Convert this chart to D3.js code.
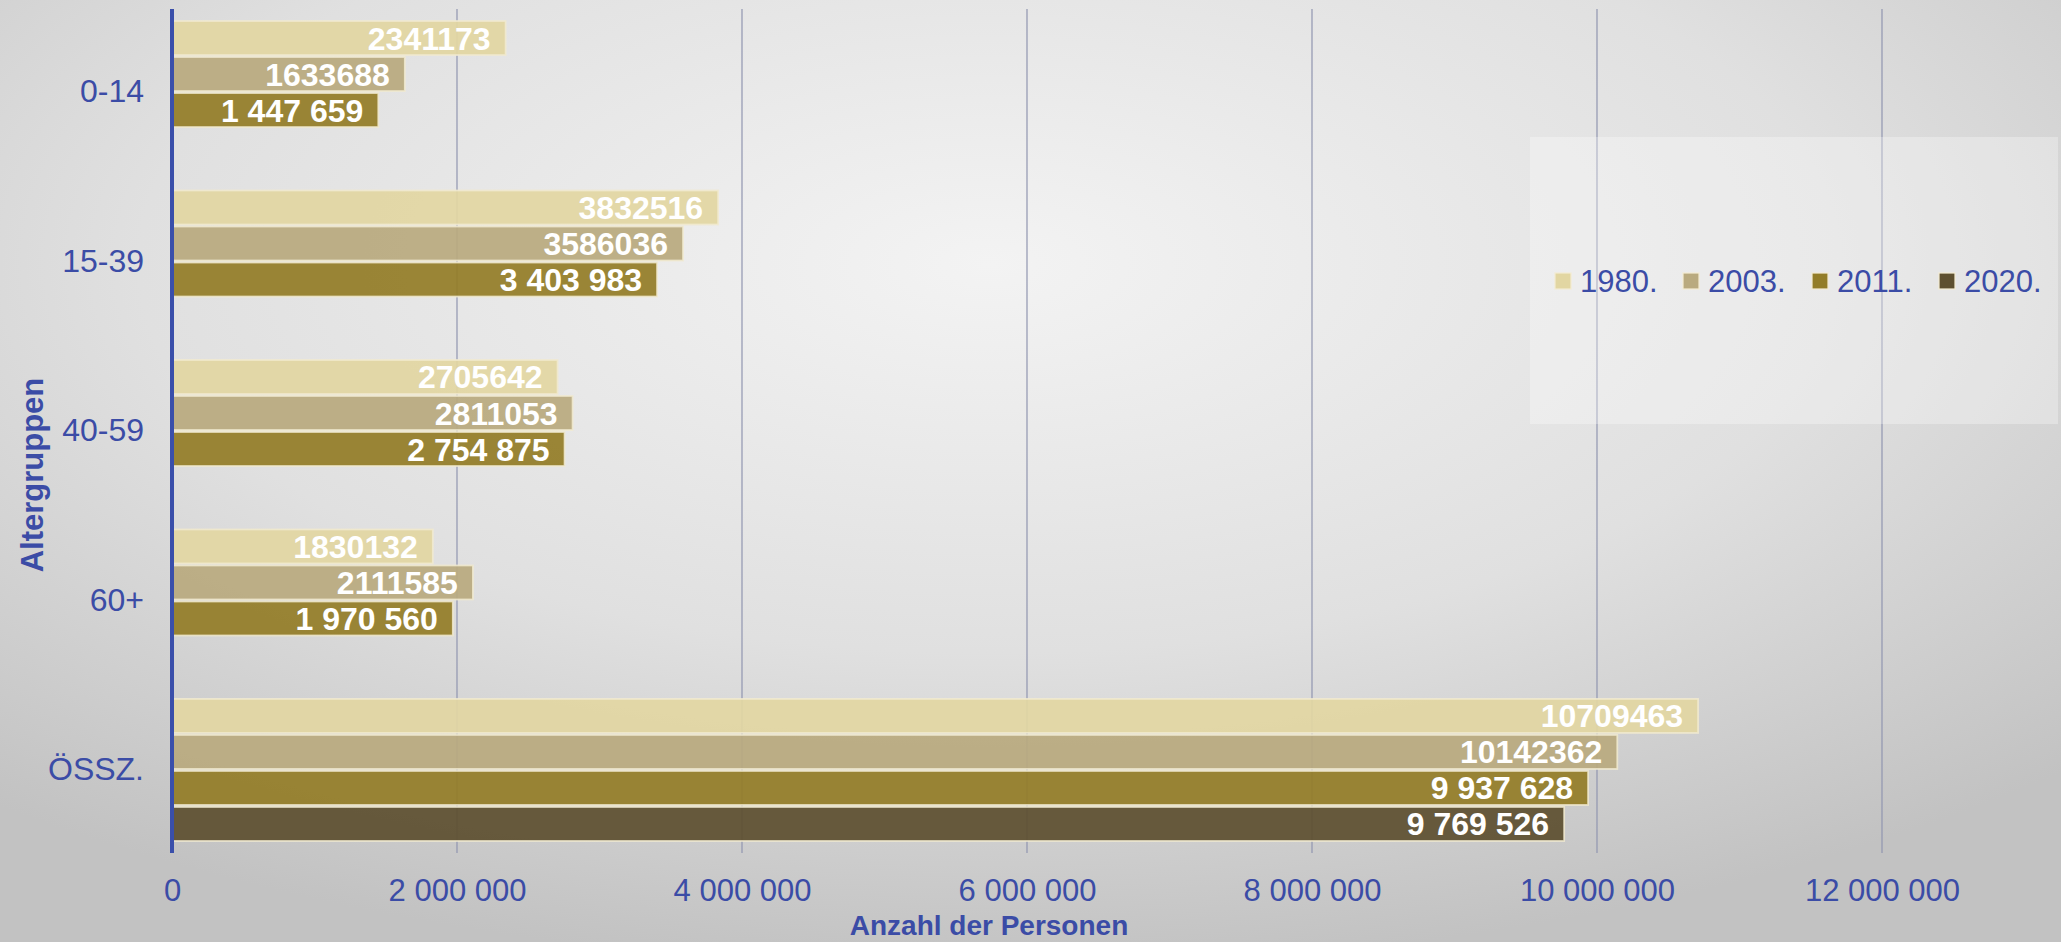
<!DOCTYPE html>
<html>
<head>
<meta charset="utf-8">
<script src="https://cdn.jsdelivr.net/npm/d3@7"></script>
<style>
  html, body { margin: 0; padding: 0; overflow: hidden; }
  body { width: 2061px; height: 942px; }
  text { font-family: "Liberation Sans", Arial, sans-serif; }
</style>
</head>
<body>
<svg id="chart" width="2061" height="942"></svg>
<script>
// ---- data ----
const categories = ["0-14", "15-39", "40-59", "60+", "ÖSSZ."];
const seriesNames = ["1980.", "2003.", "2011.", "2020."];
const values1980 = [2341173, 3832516, 2705642, 1830132, 10709463];
const values2003 = [1633688, 3586036, 2811053, 2111585, 10142362];
const values2011 = [1447659, 3403983, 2754875, 1970560, 9937628];
const values2020 = [null, null, null, null, 9769526];
const labelGrouped = [false, false, true, true];
const seriesColors = ["#e2d6a2", "#b9aa7f", "#937d28", "#5e5030"];
const xTicks = [0, 2000000, 4000000, 6000000, 8000000, 10000000, 12000000];
const xTitle = "Anzahl der Personen";
const yTitle = "Altergruppen";

const seriesValues = [values1980, values2003, values2011, values2020];

const W = 2061, H = 942;
const svg = d3.select("#chart");
const blue = "#3b4ca6";

// background
const defs = svg.append("defs");
const rg = defs.append("radialGradient").attr("id", "bg")
  .attr("cx", "48%").attr("cy", "28%").attr("r", "75%")
  .attr("gradientUnits", "objectBoundingBox");
rg.append("stop").attr("offset", "0%").attr("stop-color", "#f3f3f3");
rg.append("stop").attr("offset", "55%").attr("stop-color", "#e0e0e0");
rg.append("stop").attr("offset", "100%").attr("stop-color", "#c2c2c2");
svg.append("rect").attr("width", W).attr("height", H).attr("fill", "url(#bg)");

// scales
const x = d3.scaleLinear().domain([0, 12000000]).range([172, 1882]);
const y = d3.scaleBand().domain(categories).range([9, 853])
  .paddingInner(0.15).paddingOuter(0.065);
const ySub = d3.scaleBand().domain(seriesNames).range([0, y.bandwidth()]).padding(0);

const plotTop = 9, plotBottom = 853;

// gridlines
svg.append("g").selectAll("line").data(xTicks.slice(1)).join("line")
  .attr("x1", d => x(d)).attr("x2", d => x(d))
  .attr("y1", plotTop).attr("y2", plotBottom)
  .attr("stroke", "#9095b0").attr("stroke-width", 1.2);

// bars
const fmtGroup = d3.formatLocale({decimal: ",", thousands: " ", grouping: [3], currency: ["", ""]}).format(",d");
const fmtPlain = d3.format("d");

const barData = [];
seriesNames.forEach((s, si) => {
  categories.forEach((c, ci) => {
    const v = seriesValues[si][ci];
    if (v != null) barData.push({s, si, c, v});
  });
});

const gBars = svg.append("g");
gBars.selectAll("rect").data(barData).join("rect")
  .attr("x", x(0))
  .attr("y", d => y(d.c) + ySub(d.s) + 1)
  .attr("width", d => x(d.v) - x(0))
  .attr("height", ySub.bandwidth() - 2)
  .attr("fill", d => seriesColors[d.si])
  .attr("fill-opacity", 0.93)
  .attr("stroke", "#f1ead0")
  .attr("stroke-opacity", 0.85)
  .attr("stroke-width", 1.8);

gBars.selectAll("text").data(barData).join("text")
  .attr("x", d => x(d.v) - 15)
  .attr("y", d => y(d.c) + ySub(d.s) + ySub.bandwidth() / 2)
  .attr("dy", "0.36em")
  .attr("text-anchor", "end")
  .attr("fill", "#ffffff")
  .attr("font-weight", "bold")
  .attr("font-size", 32)
  .text(d => labelGrouped[d.si] ? fmtGroup(d.v) : fmtPlain(d.v));

// y axis line
svg.append("line").attr("x1", x(0)).attr("x2", x(0))
  .attr("y1", plotTop).attr("y2", plotBottom)
  .attr("stroke", "#3a4faa").attr("stroke-width", 4);

// y axis labels
const yAxis = d3.axisLeft(y).tickSize(0).tickPadding(28);
const gy = svg.append("g").attr("transform", `translate(${x(0)},0)`).call(yAxis);
gy.select(".domain").remove();
gy.selectAll("text").attr("fill", blue).attr("font-size", 32)
  .attr("font-family", "'Liberation Sans', Arial, sans-serif");

// x axis labels
const xAxis = d3.axisBottom(x).tickValues(xTicks).tickSize(0).tickPadding(0)
  .tickFormat(d => d === 0 ? "0" : fmtGroup(d));
const gx = svg.append("g").attr("transform", `translate(0,${plotBottom})`).call(xAxis);
gx.select(".domain").remove();
gx.selectAll("text").attr("fill", blue).attr("font-size", 31)
  .attr("font-family", "'Liberation Sans', Arial, sans-serif")
  .attr("dy", null).attr("y", 48);

// axis titles
svg.append("text").attr("x", 989).attr("y", 935)
  .attr("text-anchor", "middle").attr("fill", blue)
  .attr("font-family", "'Liberation Serif', 'Times New Roman', serif")
  .attr("font-weight", "bold").attr("font-size", 28)
  .text(xTitle);

svg.append("text")
  .attr("transform", "translate(43,475) rotate(-90)")
  .attr("text-anchor", "middle").attr("fill", blue)
  .attr("font-weight", "bold").attr("font-size", 31)
  .text(yTitle);

// legend
const lg = svg.append("g");
lg.append("rect").attr("x", 1530).attr("y", 137).attr("width", 528).attr("height", 287)
  .attr("fill", "#ffffff").attr("fill-opacity", 0.3);
const legendX = [1555, 1683, 1812, 1939];
const li = lg.selectAll("g.item").data(seriesNames).join("g").attr("class", "item")
  .attr("transform", (d, i) => `translate(${legendX[i]},281)`);
li.append("rect").attr("x", 0).attr("y", -8).attr("width", 16).attr("height", 16)
  .attr("fill", (d, i) => seriesColors[i])
  .attr("stroke", "#f3ecd2").attr("stroke-width", 1.2);
li.append("text").attr("x", 25).attr("y", 0).attr("dy", "0.36em")
  .attr("fill", blue).attr("font-size", 31).text(d => d);
</script>
</body>
</html>
